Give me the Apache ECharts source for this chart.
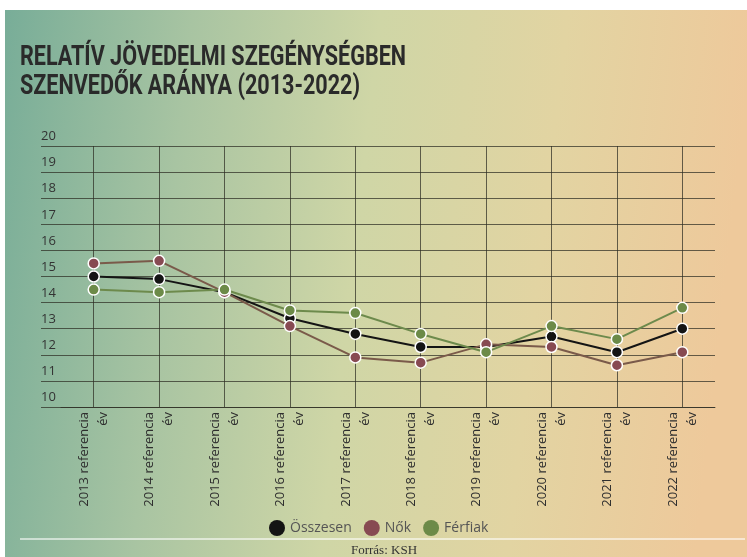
<!DOCTYPE html>
<html><head><meta charset="utf-8">
<script src="https://cdn.jsdelivr.net/npm/echarts@6/dist/echarts.min.js"></script>
<style>html,body{margin:0;padding:0;background:#fff}#c{width:747px;height:557px}</style>
</head><body><div id="c"></div>
<script>
const categories = ['2013 referencia év','2014 referencia év','2015 referencia év','2016 referencia év','2017 referencia év','2018 referencia év','2019 referencia év','2020 referencia év','2021 referencia év','2022 referencia év'];
const osszesen = [15.0, 14.9, 14.4, 13.4, 12.8, 12.3, 12.3, 12.7, 12.1, 13.0];
const nok      = [15.5, 15.6, 14.4, 13.1, 11.9, 11.7, 12.4, 12.3, 11.6, 12.1];
const ferfiak  = [14.5, 14.4, 14.5, 13.7, 13.6, 12.8, 12.1, 13.1, 12.6, 13.8];
const yTicks = [10, 20, 1];
const titleLines = ['RELATÍV JÖVEDELMI SZEGÉNYSÉGBEN', 'SZENVEDŐK ARÁNYA (2013-2022)'];

const titleFont = 'bold 28px Roboto, sans-serif';
const ctx = document.createElement('canvas').getContext('2d');
ctx.font = titleFont;
const sx = 386 / ctx.measureText(titleLines[0]).width;

const chart = echarts.init(document.getElementById('c'));
const gridLine = 'rgba(45,45,35,0.72)';
const mk = (name, data, color, lineColor) => ({
  name, type: 'line', data, xAxisIndex: 1, yAxisIndex: 1,
  symbol: 'circle', symbolSize: 11,
  itemStyle: { color, borderColor: '#fff', borderWidth: 1.5 },
  lineStyle: { color: lineColor, width: 2 },
  emphasis: { disabled: true }
});
chart.setOption({
  animation: false,
  graphic: [
    { type: 'rect', z: -10, shape: { x: 5, y: 10, width: 742, height: 547 },
      style: { fill: new echarts.graphic.LinearGradient(0, 0, 1, 0.15, [
        { offset: 0, color: '#78ad98' },
        { offset: 0.25, color: '#a8c4a2' },
        { offset: 0.5, color: '#cfd6a6' },
        { offset: 0.75, color: '#e2d4a2' },
        { offset: 1, color: '#eec99b' }]) } },
    { type: 'line', shape: { x1: 20, y1: 539, x2: 745, y2: 539 },
      style: { stroke: 'rgba(255,255,255,0.75)', lineWidth: 1.5 } },
    { type: 'text', x: 384, y: 551, style: { text: 'Forrás: KSH', fill: '#333',
      font: '13px "Liberation Serif", serif', textAlign: 'center', textVerticalAlign: 'middle' } },
    { type: 'text', x: 20, y: 44, scaleX: sx, style: { text: titleLines[0], fill: '#2a2a2a',
      font: titleFont, textAlign: 'left', textVerticalAlign: 'top' } },
    { type: 'text', x: 20, y: 73, scaleX: sx, style: { text: titleLines[1], fill: '#2a2a2a',
      font: titleFont, textAlign: 'left', textVerticalAlign: 'top' } }
  ],
  legend: {
    data: ['Összesen', 'Nők', 'Férfiak'], top: 515, left: 264,
    icon: 'circle', itemWidth: 16, itemHeight: 16, itemGap: 12,
    itemStyle: { borderWidth: 0 },
    textStyle: { fontFamily: '"Open Sans", sans-serif', fontSize: 14, color: '#555' }
  },
  grid: [
    { left: 41, right: 32, top: 146, bottom: 150 },
    { left: 61, right: 32, top: 146, bottom: 150 }
  ],
  xAxis: [
    { gridIndex: 0, type: 'category', data: categories, show: false },
    { gridIndex: 1, type: 'category', data: categories, boundaryGap: true,
      axisLine: { show: true, lineStyle: { color: gridLine, width: 1 } },
      axisTick: { show: true, alignWithLabel: true, inside: true, length: 261, interval: 0,
        lineStyle: { color: gridLine, width: 1 } },
      splitLine: { show: false },
      axisLabel: { interval: 0, rotate: 90, margin: 5, fontSize: 13, lineHeight: 19,
        fontFamily: '"Open Sans", sans-serif', color: '#2e2e2e',
        formatter: v => v.replace(' év', '\név') } }
  ],
  yAxis: [
    { gridIndex: 0, type: 'value', min: yTicks[0], max: yTicks[1], interval: yTicks[2],
      axisLine: { show: false }, axisTick: { show: false },
      splitLine: { show: true, lineStyle: { color: gridLine, width: 1 } },
      axisLabel: { inside: true, margin: 0, verticalAlign: 'bottom', padding: [0, 0, 3, 0],
        fontSize: 13, fontFamily: '"Open Sans", sans-serif', color: '#333' } },
    { gridIndex: 1, type: 'value', min: yTicks[0], max: yTicks[1], interval: yTicks[2], show: false,
      splitLine: { show: false } }
  ],
  series: [
    mk('Összesen', osszesen, '#141414', '#141414'),
    mk('Nők', nok, '#874a52', '#7a5a4a'),
    mk('Férfiak', ferfiak, '#6c8a48', '#6d8a4c')
  ]
});
</script></body></html>
